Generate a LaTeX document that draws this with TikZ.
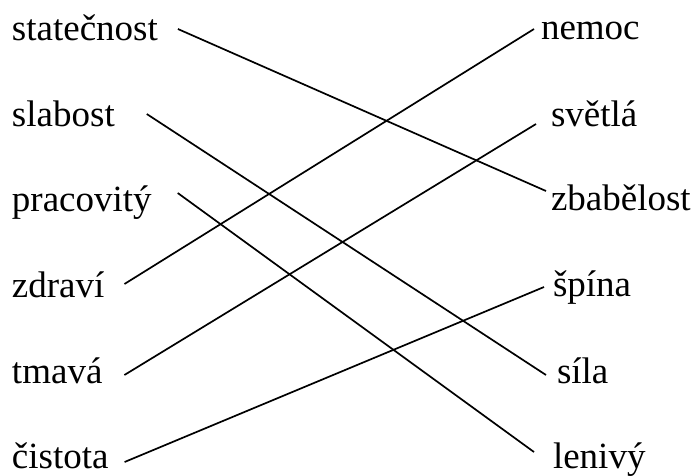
\documentclass[tikz,border=0pt]{standalone}
\usepackage{fontspec}
\setmainfont{Liberation Serif}
\usepackage{tikz}

\begin{document}
\begin{tikzpicture}[x=1pt, y=-1pt, every node/.style={inner sep=0pt, outer sep=0pt, font=\fontsize{37}{41}\selectfont}, pair/.style={line width=1.7pt, black}]
    \useasboundingbox (0,0) rectangle (698,475);
    \node[anchor=base west] (statecnost) at (12, 40) {statečnost};
    \node[anchor=base west] (slabost) at (12, 126) {slabost};
    \node[anchor=base west] (pracovity) at (12, 211) {pracovitý};
    \node[anchor=base west] (zdravi) at (12, 297) {zdraví};
    \node[anchor=base west] (tmava) at (12, 383) {tmavá};
    \node[anchor=base west] (cistota) at (12, 468) {čistota};

    \node[anchor=base west] (nemoc) at (541, 39) {nemoc};
    \node[anchor=base west] (svetla) at (551, 126) {světlá};
    \node[anchor=base west] (zbabelost) at (551, 210) {zbabělost};
    \node[anchor=base west] (spina) at (553, 296) {špína};
    \node[anchor=base west] (sila) at (557, 383) {síla};
    \node[anchor=base west] (leniva) at (553, 468) {lenivý};

    \draw[pair] ([xshift=20pt, yshift=11pt]statecnost.base east) -- ([xshift=-5pt, yshift=19pt]zbabelost.base west);
    \draw[pair] ([xshift=32pt, yshift=12pt]slabost.base east) -- ([xshift=-11pt, yshift=8pt]sila.base west);
    \draw[pair] ([xshift=26pt, yshift=18pt]pracovity.base east) -- ([xshift=-19pt, yshift=16pt]leniva.base west);
    \draw[pair] ([xshift=20pt, yshift=13pt]zdravi.base east) -- ([xshift=-7pt, yshift=10pt]nemoc.base west);
    \draw[pair] ([xshift=22pt, yshift=8pt]tmava.base east) -- ([xshift=-15pt, yshift=2pt]svetla.base west);
    \draw[pair] ([xshift=16pt, yshift=6pt]cistota.base east) -- ([xshift=-9pt, yshift=9pt]spina.base west);
\end{tikzpicture}
\end{document}
